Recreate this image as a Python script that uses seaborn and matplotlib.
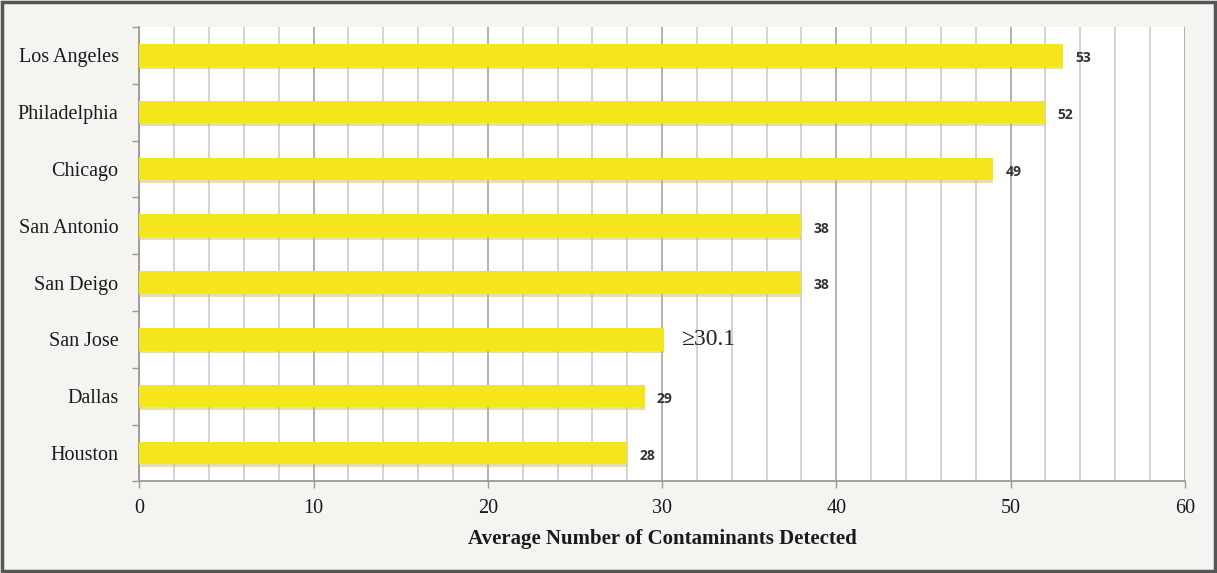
import matplotlib
matplotlib.use("Agg")
import matplotlib.pyplot as plt
import matplotlib.patheffects as pe
from matplotlib.patches import Rectangle
from matplotlib.ticker import MultipleLocator
import seaborn as sns
import pandas as pd

cities = ["Los Angeles", "Philadelphia", "Chicago", "San Antonio", "San Deigo",
          "San Jose", "Dallas", "Houston"]
values = [53, 52, 49, 38, 38, 30.1, 29, 28]
value_labels = ["53", "52", "49", "38", "38", "\u226530.1", "29", "28"]
x_ticks = [0, 10, 20, 30, 40, 50, 60]
x_label = "Average Number of Contaminants Detected"

df = pd.DataFrame({"city": cities, "value": values})

sns.set_theme(style="white")
plt.rcParams["font.family"] = ["Liberation Serif", "DejaVu Serif"]

fig = plt.figure(figsize=(12.17, 5.73), dpi=100)
fig.patch.set_facecolor("#f6f4f1")
ax = fig.add_axes([0.1145, 0.160, 0.859, 0.793])
ax.set_facecolor("white")

sns.barplot(data=df, y="city", x="value", orient="h", color="#f5e51c",
            width=0.4, saturation=1, ax=ax, zorder=3)
for p in ax.patches:
    p.set_edgecolor("none")
    p.set_path_effects([pe.SimplePatchShadow(offset=(0, -2), shadow_rgbFace="#c9bf6a", alpha=0.5),
                        pe.Normal()])

ax.set_xlim(0, 60)
ax.set_ylim(7.5, -0.5)
ax.xaxis.set_minor_locator(MultipleLocator(2))
ax.set_xticks(x_ticks)
ax.grid(True, which="major", axis="x", color="#aaaaaa", linewidth=1.3, zorder=0)
ax.grid(True, which="minor", axis="x", color="#c8c8c8", linewidth=1.1, zorder=0)
ax.set_axisbelow(True)

ax.set_yticks(range(len(cities)))
ax.set_yticklabels(cities, fontsize=14.5, color="#1a1a1a")
ax.set_yticks([i - 0.5 for i in range(len(cities) + 1)], minor=True)
ax.tick_params(axis="y", which="major", length=0, pad=15)
ax.tick_params(axis="y", which="minor", length=5, color="#999999", width=1, left=True)
ax.tick_params(axis="x", which="major", length=5, color="#999999", width=1, bottom=True,
               labelsize=14.5, labelcolor="#1a1a1a", pad=8)
ax.tick_params(axis="x", which="minor", length=0)

for s in ["top", "right"]:
    ax.spines[s].set_visible(False)
for s in ["left", "bottom"]:
    ax.spines[s].set_color("#999999")
    ax.spines[s].set_linewidth(1.3)

ax.set_xlabel(x_label, fontsize=15, fontweight="bold", color="#1a1a1a", labelpad=8)
ax.set_ylabel("")

for i, (v, lab) in enumerate(zip(values, value_labels)):
    if lab.startswith("\u2265"):
        ax.text(v + 1.0, i, lab, va="center", ha="left", fontsize=17,
                family=["Liberation Serif", "DejaVu Serif"], color="#222222")
    else:
        ax.text(v + 0.7, i + 0.05, lab, va="center", ha="left", fontsize=10,
                fontweight="bold", family=["Open Sans", "DejaVu Sans"], color="#333333")

fig.patches.append(Rectangle((0.002, 0.003), 0.996, 0.993, transform=fig.transFigure,
                             fill=False, edgecolor="#555555", linewidth=2.5, zorder=10))

fig.savefig("out.png", dpi=100, facecolor=fig.get_facecolor())
